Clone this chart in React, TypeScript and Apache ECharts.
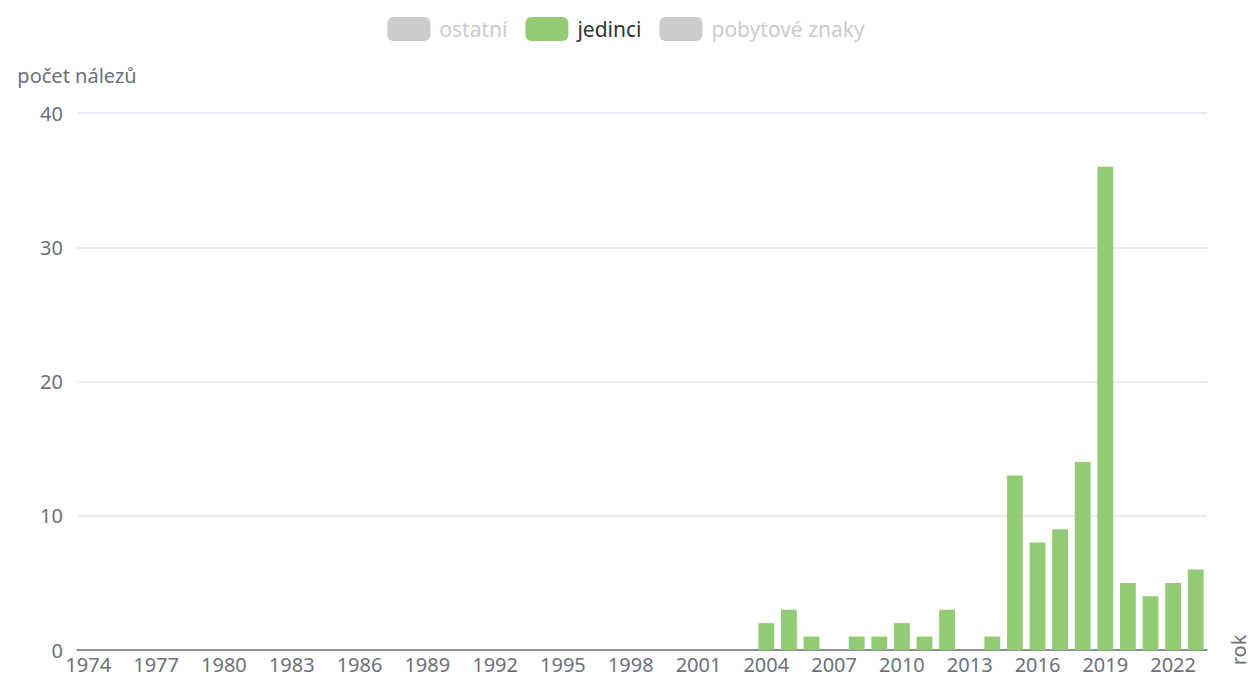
import React, { useEffect, useRef } from "react";
import * as echarts from "echarts";

const years: string[] = [
  "1974", "1975", "1976", "1977", "1978", "1979", "1980", "1981", "1982", "1983",
  "1984", "1985", "1986", "1987", "1988", "1989", "1990", "1991", "1992", "1993",
  "1994", "1995", "1996", "1997", "1998", "1999", "2000", "2001", "2002", "2003",
  "2004", "2005", "2006", "2007", "2008", "2009", "2010", "2011", "2012", "2013",
  "2014", "2015", "2016", "2017", "2018", "2019", "2020", "2021", "2022", "2023",
];

const jedinci: number[] = [
  0, 0, 0, 0, 0, 0, 0, 0, 0, 0,
  0, 0, 0, 0, 0, 0, 0, 0, 0, 0,
  0, 0, 0, 0, 0, 0, 0, 0, 0, 0,
  2, 3, 1, 0, 1, 1, 2, 1, 3, 0,
  1, 13, 8, 9, 14, 36, 5, 4, 5, 6,
];

const ostatni: number[] = [];
const pobytoveZnaky: number[] = [];

const seriesNames = ["ostatní", "jedinci", "pobytové znaky"];

export default function App() {
  const ref = useRef<HTMLDivElement>(null);
  useEffect(() => {
    if (!ref.current) return;
    const chart = echarts.init(ref.current, undefined, { renderer: "svg" });
    const font = "'Noto Sans', sans-serif";
    chart.setOption({
      animation: false,
      color: ["#5470c6", "#91cc75", "#fac858"],
      textStyle: { fontFamily: font },
      legend: {
        top: 12,
        left: "center",
        itemWidth: 43,
        itemHeight: 24,
        itemGap: 18,
        itemStyle: { borderRadius: 5 },
        textStyle: { fontSize: 21, color: "#333", fontFamily: font, padding: [0, 0, 0, 4] },
        inactiveColor: "#ccc",
        data: seriesNames,
        selected: { "ostatní": false, "jedinci": true, "pobytové znaky": false },
      },
      grid: { left: 77, right: 45, top: 113, bottom: 32 },
      xAxis: {
        type: "category",
        data: years,
        name: "rok",
        nameLocation: "end",
        nameGap: 21,
        nameRotate: 90,
        nameTextStyle: { fontSize: 20, color: "#6E7079", fontFamily: font },
        axisLine: { lineStyle: { color: "#6E7079", width: 1.5 } },
        axisTick: { interval: 2, length: 7, lineStyle: { color: "#6E7079", width: 1.5 } },
        axisLabel: { interval: 2, fontSize: 20, color: "#6E7079", margin: 4, fontFamily: font },
      },
      yAxis: {
        type: "value",
        min: 0,
        max: 40,
        interval: 10,
        name: "počet nálezů",
        nameLocation: "end",
        nameGap: 28,
        nameTextStyle: { fontSize: 20, color: "#6E7079", fontFamily: font },
        axisLabel: { fontSize: 20, color: "#6E7079", margin: 14, fontFamily: font },
        splitLine: { lineStyle: { color: "#E0E6F1", width: 1.5 } },
      },
      series: [
        { name: seriesNames[0], type: "bar", data: ostatni, barWidth: "70%" },
        { name: seriesNames[1], type: "bar", data: jedinci, barWidth: "70%" },
        { name: seriesNames[2], type: "bar", data: pobytoveZnaky, barWidth: "70%" },
      ],
    });
    return () => chart.dispose();
  }, []);
  return <div ref={ref} style={{ width: 1252, height: 682, position: "absolute", left: 0, top: 0 }} />;
}
